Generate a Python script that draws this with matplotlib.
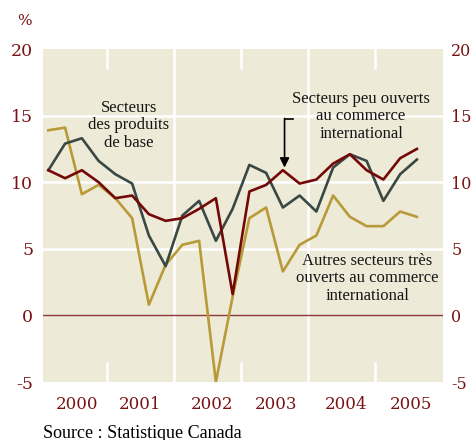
import matplotlib.pyplot as plt
import numpy as np

# quarterly growth, 2000Q1 .. 2005Q3
years = ["2000", "2001", "2002", "2003", "2004", "2005"]
year_pos = [1.7, 5.5, 9.75, 13.6, 17.8, 21.65]
base = [10.9, 12.9, 13.3, 11.6, 10.6, 9.9, 6.0, 3.7, 7.5, 8.6, 5.6, 8.0,
        11.3, 10.7, 8.1, 9.0, 7.8, 11.1, 12.1, 11.6, 8.6, 10.6, 11.7]
peu_ouverts = [10.9, 10.3, 10.9, 10.0, 8.8, 9.0, 7.6, 7.1, 7.3, 8.0, 8.8, 1.6,
               9.3, 9.8, 10.9, 9.9, 10.2, 11.4, 12.1, 10.9, 10.2, 11.8, 12.5]
tres_ouverts = [13.9, 14.1, 9.1, 9.8, 8.8, 7.3, 0.8, 3.8, 5.3, 5.6, -5.0, 1.4,
                7.3, 8.1, 3.3, 5.3, 6.0, 9.0, 7.4, 6.7, 6.7, 7.8, 7.4]
yticks = [-5, 0, 5, 10, 15, 20]

red = "#7a1414"
x = np.arange(len(base))

fig = plt.figure(figsize=(4.72, 4.40), dpi=100)
ax = fig.add_axes([0.0911, 0.1318, 0.8475, 0.7568])
ax.set_facecolor("#eeead8")
for s in ax.spines.values():
    s.set_visible(False)

# white grid
for v in [5, 10, 15]:
    ax.axhline(v, color="white", lw=1.8, zorder=1)
for b in [7.5, 15.5]:
    ax.axvline(b, color="white", lw=1.8, zorder=1)
for b in [3.5, 11.5, 19.5]:
    ax.plot([b, b], [20, 18.6], color="white", lw=1.8, zorder=1)
    ax.plot([b, b], [-5, -3.6], color="white", lw=1.8, zorder=1)
ax.axhline(0, color="#8c3a3a", lw=1.0, zorder=2)

ax.plot(x, tres_ouverts, color="#b89a38", lw=1.9, zorder=3)
ax.plot(x, base, color="#394843", lw=1.9, zorder=4)
ax.plot(x, peu_ouverts, color="#730808", lw=1.9, zorder=5)

ax.set_xlim(-0.32, 23.56)
ax.set_ylim(-5, 20)
ax.set_yticks(yticks)
ax.set_yticklabels([str(v) for v in yticks], family="DejaVu Serif", fontsize=12.5, color=red)
ax.tick_params(axis="y", length=0, pad=7)
ax.set_xticks([])

# right-hand labels
ax2 = ax.twinx()
ax2.set_ylim(-5, 20)
ax2.set_yticks(yticks)
ax2.set_yticklabels([str(v) for v in yticks], family="DejaVu Serif", fontsize=11.5, color=red)
ax2.tick_params(axis="y", length=0, pad=6)
for s in ax2.spines.values():
    s.set_visible(False)

for p, yr in zip(year_pos, years):
    ax.text(p, -6.7, yr, ha="center", va="center", family="DejaVu Serif",
            fontsize=12, color=red)

fig.text(24 / 472, 1 - 21 / 440, "%", ha="center", va="center", family="DejaVu Serif",
         fontsize=11, color=red)
fig.text(43 / 472, 1 - 433 / 440, "Source : Statistique Canada", ha="left", va="center",
         family="Liberation Serif", fontsize=13, color="black")

tf = dict(family="Liberation Serif", fontsize=12, color="#151515", ha="center",
          va="center", linespacing=1.1, zorder=6)
ax.text(4.8, 14.26, "Secteurs\ndes produits\nde base", **tf)
ax.text(18.67, 14.94, "Secteurs peu ouverts\nau commerce\ninternational", **tf)
ax.text(19.03, 2.78, "Autres secteurs très\nouverts au commerce\ninternational", **tf)

# elbow arrow to the 2003Q3 peak
ax.plot([14.6, 14.1], [14.74, 14.74], color="black", lw=1.2, zorder=6)
ax.annotate("", xy=(14.1, 11.1), xytext=(14.1, 14.79),
            arrowprops=dict(arrowstyle="-|>", color="black", lw=1.2,
                            mutation_scale=14, shrinkA=0, shrinkB=0), zorder=6)

fig.savefig("out.png", dpi=100)
